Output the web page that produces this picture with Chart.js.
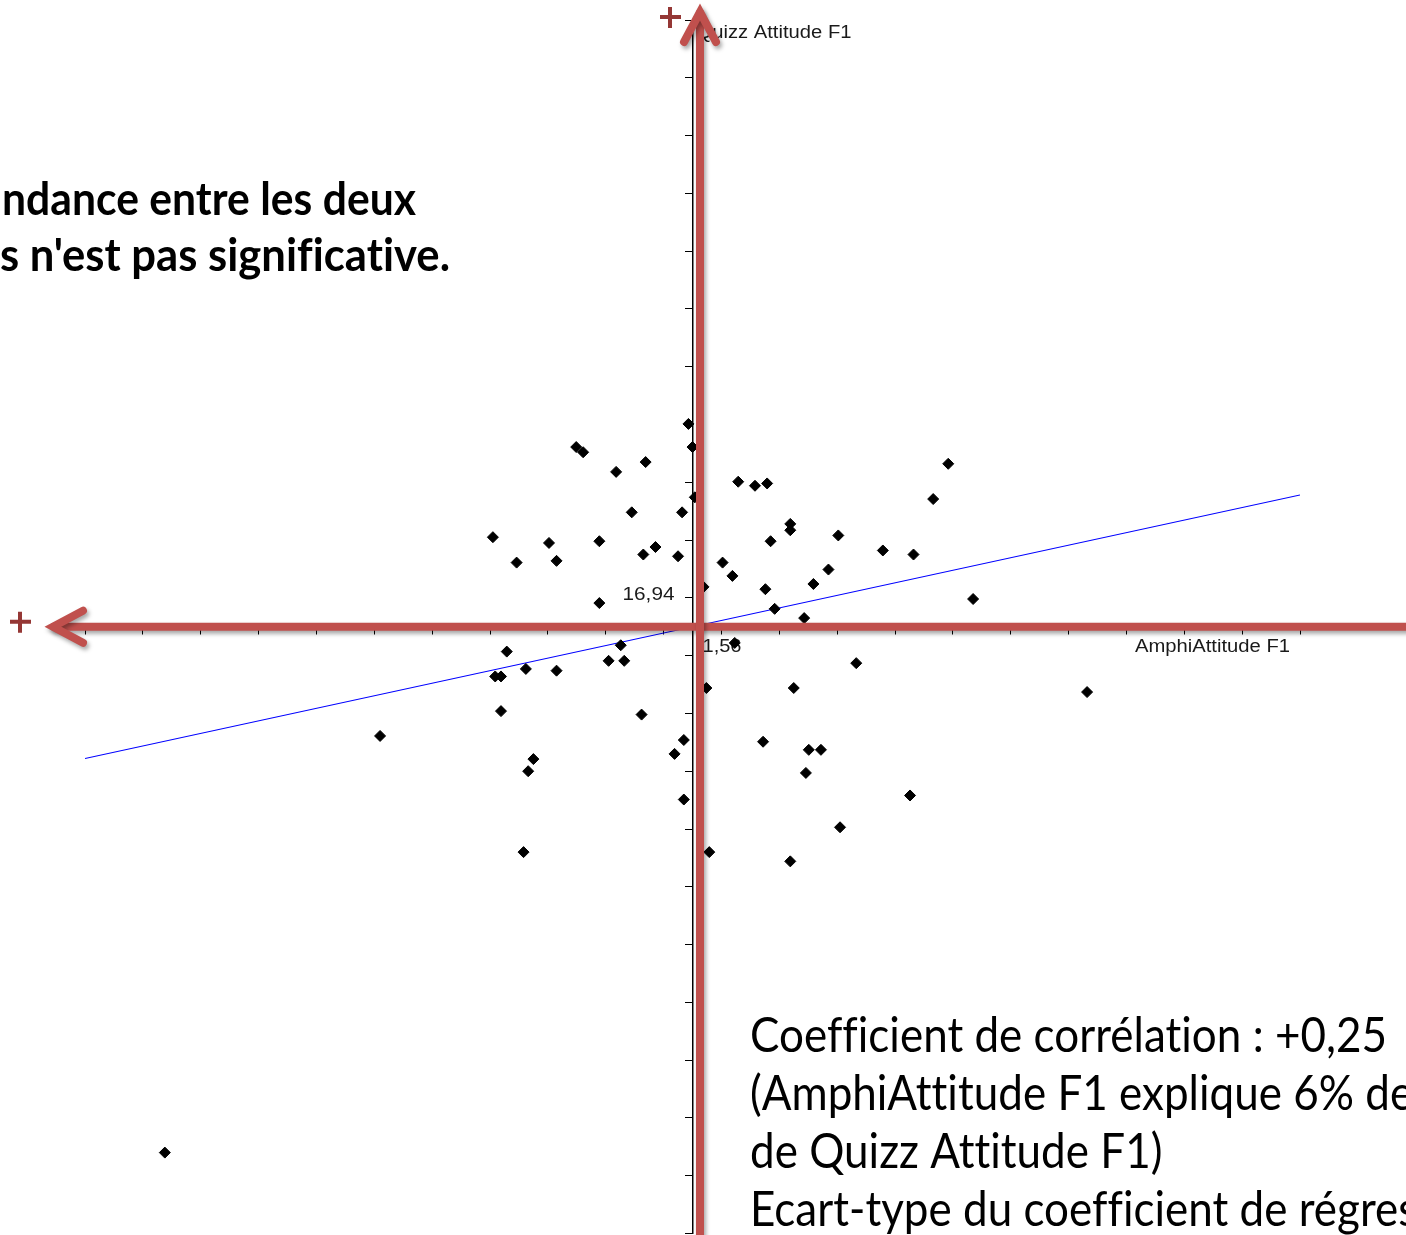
<!DOCTYPE html>
<html lang="fr">
<head>
<meta charset="utf-8">
<title>Quizz Attitude F1 / AmphiAttitude F1</title>
<script src="https://cdn.jsdelivr.net/npm/chart.js@4.4.1/dist/chart.umd.min.js"></script>
<style>
  html, body { margin: 0; padding: 0; background: #fff; }
  #wrap { position: relative; width: 1406px; height: 1235px; overflow: hidden; }
  #box { position: relative; width: 1406px; height: 1240px; }
</style>
</head>
<body>
<div id="wrap"><div id="box"><canvas id="scatter"></canvas></div></div>
<script>
// AmphiAttitude F1 (x) against Quizz Attitude F1 (y)
const amphiF1 = [
    1.49, 1.56, -0.45, -0.33, 0.24, 0.75, 1.60, 0.51, 1.38, -1.89, -1.48, -0.92, -0.79, -0.05, 0.71, 0.92, 1.31, -0.05, 1.75,
    2.35, 2.64, 2.85, 5.98, 5.72, 3.25, 3.25, 4.08, 2.91, 2.08, 2.25, 4.85, 5.38, 3.91, 3.65, 2.82, 2.98, 3.49, 6.41,
    0.32, 0.11, 0.38, -1.65, -1.85, -1.75, -1.32, -0.79, -1.75, -3.84, 0.68, -1.19, -1.28, 1.41, 1.25, 1.41, -1.36, -7.56,
    2.29, 4.39, 1.80, 3.31, 8.38, 2.78, 3.57, 3.78, 3.52, 5.32, 4.11, 1.85, 3.25
];
const quizzF1 = [
    20.45, 20.05, 20.05, 19.96, 19.62, 19.79, 19.18, 18.92, 18.92, 18.49, 18.05, 18.39, 18.08, 18.42, 18.19, 18.32, 18.16, 17.35, 17.63,
    19.45, 19.38, 19.42, 19.76, 19.15, 18.72, 18.61, 18.52, 18.42, 18.05, 17.82, 18.26, 18.19, 17.93, 17.68, 17.59, 17.25, 17.09, 17.42,
    16.62, 16.35, 16.35, 16.51, 16.08, 16.08, 16.21, 16.18, 15.48, 15.05, 15.42, 14.65, 14.44, 14.98, 14.74, 13.95, 13.04, 7.84,
    16.66, 16.31, 15.88, 15.88, 15.81, 14.95, 14.81, 14.81, 14.41, 14.02, 13.47, 13.04, 12.88
];

// means, where the two axes cross
const xMean = 1.56;
const yMean = 16.94;
const xMeanLabel = "1,56";
const yMeanLabel = "16,94";

// tick marks along both axes
const xTicks = [-8.94, -7.94, -6.94, -5.94, -4.94, -3.94, -2.94, -1.94, -0.94, 0.06, 1.06,
    2.06, 3.06, 4.06, 5.06, 6.06, 7.06, 8.06, 9.06, 10.06, 11.06, 12.06];
const yTicks = [6.44, 7.44, 8.44, 9.44, 10.44, 11.44, 12.44, 13.44, 14.44, 15.44, 16.44,
    17.44, 18.44, 19.44, 20.44, 21.44, 22.44, 23.44, 24.44, 25.44, 26.44, 27.44];

// regression line end points
const regX = [-8.94, 12.06];
const regY = [14.66, 19.22];

const xTitle = "AmphiAttitude F1";
const yTitle = "Quizz Attitude F1";
const noteLines = ["ndance entre les deux", "s n'est pas significative."];
const statLines = [
    "Coefficient de corrélation : +0,25",
    "(AmphiAttitude F1 explique 6% de",
    "de Quizz Attitude F1)",
    "Ecart-type du coefficient de régression"
];

// draw text squeezed horizontally so it covers the given width
function fitText(ctx, text, x, y, width, sx) {
    if (!sx) sx = width / ctx.measureText(text).width;
    ctx.save();
    ctx.translate(x, y);
    ctx.scale(sx, 1);
    ctx.fillText(text, 0, 0);
    ctx.restore();
    return sx;
}

function drawPlus(ctx, cx, cy) {
    ctx.fillRect(cx - 10, cy - 2, 21, 4);
    ctx.fillRect(cx - 2, cy - 10, 4, 21);
}

const overlay = {
    id: 'overlay',
    beforeDatasetsDraw(chart) {
        // small axis labels sit under the points
        const ctx = chart.ctx;
        const cx = chart.scales.x.getPixelForValue(xMean);
        const cy = chart.scales.y.getPixelForValue(yMean);
        ctx.save();
        ctx.fillStyle = '#1a1a1a';
        ctx.font = '18px "Liberation Sans", Arial, sans-serif';
        ctx.textBaseline = 'middle';
        ctx.textAlign = 'left';
        fitText(ctx, yTitle, cx + 4, 33, 155);
        fitText(ctx, xTitle, 1135, cy + 20, 155);
        fitText(ctx, yMeanLabel, cx - 70, cy - 32, 52);
        fitText(ctx, xMeanLabel, cx + 10, cy + 20, 39);
        ctx.restore();
    },
    afterDraw(chart) {
        const ctx = chart.ctx;
        const cx = chart.scales.x.getPixelForValue(xMean);
        const cy = chart.scales.y.getPixelForValue(yMean);
        const ax = cx + 7.5;

        // red arrows with a soft shadow
        ctx.save();
        ctx.strokeStyle = '#c0504d';
        ctx.lineWidth = 8;
        ctx.lineJoin = 'miter';
        ctx.lineCap = 'round';
        ctx.shadowColor = 'rgba(0,0,0,0.35)';
        ctx.shadowBlur = 4;
        ctx.shadowOffsetX = 2;
        ctx.shadowOffsetY = 3;

        ctx.beginPath();
        ctx.moveTo(1420, cy);
        ctx.lineTo(54, cy);
        ctx.stroke();
        ctx.beginPath();
        ctx.moveTo(83, cy - 16);
        ctx.lineTo(53, cy);
        ctx.lineTo(83, cy + 16);
        ctx.stroke();

        ctx.beginPath();
        ctx.moveTo(ax, 1250);
        ctx.lineTo(ax, 13);
        ctx.stroke();
        ctx.beginPath();
        ctx.moveTo(ax - 16, 42);
        ctx.lineTo(ax, 12);
        ctx.lineTo(ax + 16, 42);
        ctx.stroke();
        ctx.restore();

        ctx.save();
        ctx.fillStyle = '#953735';
        drawPlus(ctx, 20, cy - 5);
        drawPlus(ctx, 670, 17);
        ctx.restore();

        // slide text blocks
        ctx.save();
        ctx.fillStyle = '#000';
        ctx.textAlign = 'left';
        ctx.textBaseline = 'alphabetic';
        ctx.textRendering = 'optimizeSpeed';
        ctx.letterSpacing = '0.01px';
        ctx.font = 'bold 46px Lato, "Noto Sans", sans-serif';
        fitText(ctx, noteLines[0], 2, 215, 414);
        fitText(ctx, noteLines[1], 0, 271, 450);

        ctx.font = '48px Lato, "Noto Sans", sans-serif';
        const sr = fitText(ctx, statLines[0], 750, 1052, 637);
        statLines.slice(1).forEach((line, i) => {
            fitText(ctx, line, 750, 1110 + i * 58, 0, sr);
        });
        ctx.restore();
    }
};

function axisOptions(ticks, position) {
    return {
        type: 'linear',
        min: ticks[0],
        max: ticks[ticks.length - 1],
        position: position,
        afterBuildTicks: scale => {
            scale.ticks = ticks.map(v => ({ value: v }));
        },
        ticks: { display: false },
        grid: {
            drawOnChartArea: false,
            drawTicks: true,
            tickLength: 7,
            tickColor: '#000',
            tickWidth: 1
        },
        border: { display: true, color: '#000', width: 1.5 }
    };
}

new Chart(document.getElementById('scatter'), {
    type: 'scatter',
    data: {
        datasets: [{
            label: 'Individus',
            data: amphiF1.map((x, i) => ({ x: x, y: quizzF1[i] })),
            pointStyle: 'rectRot',
            pointRadius: 5.5,
            backgroundColor: '#000',
            borderColor: '#000',
            borderWidth: 1,
            order: 1
        }, {
            label: 'Droite de régression',
            data: regX.map((x, i) => ({ x: x, y: regY[i] })),
            showLine: true,
            borderColor: '#0000ff',
            borderWidth: 1.2,
            pointRadius: 0,
            fill: false,
            order: 2
        }]
    },
    options: {
        responsive: true,
        maintainAspectRatio: false,
        animation: false,
        devicePixelRatio: 1,
        layout: { padding: { left: 85, right: 106, top: 20, bottom: 1 } },
        plugins: {
            legend: { display: false },
            tooltip: { enabled: false }
        },
        scales: {
            x: axisOptions(xTicks, { y: yMean }),
            y: axisOptions(yTicks, { x: xMean })
        }
    },
    plugins: [overlay]
});
</script>
</body>
</html>
